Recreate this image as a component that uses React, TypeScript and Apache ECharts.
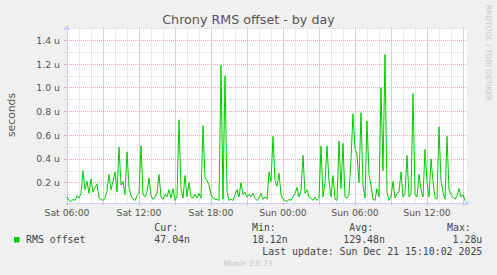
import React, { useEffect, useRef } from 'react';
import * as echarts from 'echarts';

// ---------- data ----------
const chartTitle = 'Chrony RMS offset - by day';
const yAxisTitle = 'seconds';
// hours counted from Sat 00:00
const startHour = 6; // Sat 06:00
const endHour = 39 + 20 / 60; // Sun 15:20
const stepHours = 10 / 60; // one sample every 10 minutes
const xTickLabels = ['Sat 06:00', 'Sat 12:00', 'Sat 18:00', 'Sun 00:00', 'Sun 06:00', 'Sun 12:00'];
const yMax = 1.5; // micro-seconds
const seriesName = 'RMS offset';
// RMS offset, in micro-seconds
const rmsOffset = [
  0.08, 0.05, 0.04, 0.06, 0.05, 0.09, 0.07, 0.11, 0.30, 0.14,
  0.21, 0.11, 0.23, 0.12, 0.16, 0.19, 0.07, 0.06, 0.05, 0.07,
  0.13, 0.27, 0.14, 0.21, 0.29, 0.12, 0.50, 0.18, 0.21, 0.10,
  0.46, 0.16, 0.09, 0.06, 0.05, 0.09, 0.11, 0.51, 0.10, 0.08,
  0.12, 0.24, 0.09, 0.06, 0.08, 0.11, 0.27, 0.08, 0.06, 0.10,
  0.08, 0.14, 0.07, 0.15, 0.05, 0.08, 0.73, 0.15, 0.07, 0.26,
  0.08, 0.20, 0.08, 0.07, 0.10, 0.07, 0.11, 0.07, 0.68, 0.24,
  0.22, 0.18, 0.10, 0.07, 0.06, 0.06, 0.05, 1.19, 0.06, 1.10,
  0.13, 0.05, 0.06, 0.05, 0.10, 0.14, 0.08, 0.20, 0.10, 0.12,
  0.08, 0.10, 0.08, 0.11, 0.07, 0.05, 0.07, 0.11, 0.06, 0.08,
  0.06, 0.29, 0.21, 0.59, 0.22, 0.17, 0.28, 0.10, 0.06, 0.05,
  0.04, 0.06, 0.05, 0.08, 0.11, 0.16, 0.08, 0.13, 0.43, 0.11,
  0.14, 0.08, 0.07, 0.05, 0.08, 0.05, 0.07, 0.51, 0.08, 0.20,
  0.51, 0.21, 0.08, 0.26, 0.06, 0.05, 0.55, 0.15, 0.53, 0.08,
  0.07, 0.10, 0.40, 0.78, 0.49, 0.44, 0.20, 0.79, 0.18, 0.07,
  0.72, 0.27, 0.18, 0.06, 0.05, 0.15, 0.08, 1.00, 0.30, 1.28,
  0.12, 0.05, 0.08, 0.21, 0.07, 0.11, 0.12, 0.29, 0.08, 0.11,
  0.43, 0.08, 0.11, 0.95, 0.10, 0.08, 0.27, 0.14, 0.08, 0.48,
  0.21, 0.08, 0.40, 0.21, 0.08, 0.06, 0.67, 0.21, 0.12, 0.06,
  0.59, 0.14, 0.10, 0.08, 0.06, 0.09, 0.15, 0.08, 0.10, 0.05,
];
const statHeaders = ['Cur:', 'Min:', 'Avg:', 'Max:'];
const statValues = ['47.04n', '18.12n', '129.48n', '1.28u'];
const lastUpdate = 'Last update: Sun Dec 21 15:10:02 2025';
const footerText = 'Munin 2.0.73';
const watermarkText = 'RRDTOOL / TOBI OETIKER';

// ---------- styles ----------
const BG = '#F0F0F0';
const LINE = '#00CC00';
const MGRID = '#EBA8A8';
const GRID = '#D6D6D6';
const AXIS = '#C8CEF4';
const FONT = '#555555';
const SANS = '"DejaVu Sans", sans-serif';
const MONO = '"DejaVu Sans Mono", monospace';

const G_LEFT = 67;
const G_TOP = 28.4;
const G_WIDTH = 400;
const ZERO_Y = 206.4; // pixel of value 0
const AXIS_Y = 203; // pixel where the x axis line sits

export default function App() {
  const ref = useRef<HTMLDivElement>(null);

  useEffect(() => {
    if (!ref.current) return;
    const chart = echarts.init(ref.current, null, { renderer: 'svg' });

    const seriesData = rmsOffset.map((v, i) => [startHour + i * stepHours, v]);

    const xLabel = (v: number) => {
      const k = (v - startHour) / 6;
      if (Math.abs(k - Math.round(k)) < 1e-6) return xTickLabels[Math.round(k)] ?? '';
      return '';
    };
    const yLabel = (v: number) => {
      if (v < 0.05 || v > 1.45) return '';
      return v.toFixed(1) + ' u';
    };

    const monoText = (x: number, y: number, text: string, align = 'left') => ({
      type: 'text',
      x,
      y,
      z: 20,
      style: { text, fill: '#444', font: `9.9px ${MONO}`, align, verticalAlign: 'middle' },
    });

    const option: any = {
      animation: false,
      backgroundColor: BG,
      grid: {
        left: G_LEFT,
        top: G_TOP,
        width: G_WIDTH,
        bottom: 275 - ZERO_Y,
        containLabel: false,
        outerBoundsMode: 'none',
        show: false,
      },
      xAxis: [
        {
          type: 'value', position: 'bottom', min: startHour, max: endHour, interval: 1,
          axisLine: { show: false }, axisTick: { show: false }, axisLabel: { show: false },
          splitLine: { show: true, showMinLine: false, showMaxLine: false, lineStyle: { color: GRID, width: 1, type: [1, 1] } },
          z: 0,
        },
        {
          type: 'value', position: 'bottom', min: startHour, max: endHour, interval: 3,
          axisLine: { show: false }, axisTick: { show: false }, axisLabel: { show: false },
          splitLine: { show: true, showMinLine: false, showMaxLine: false, lineStyle: { color: MGRID, width: 1, type: [1, 1] } },
          z: 0,
        },
        {
          type: 'value', position: 'bottom', min: startHour, max: endHour, interval: 3,
          offset: -(ZERO_Y - AXIS_Y),
          axisLine: {
            show: true,
            onZero: false,
            lineStyle: { color: AXIS, width: 1 },
            symbol: ['none', 'arrow'],
            symbolSize: [5, 6],
            symbolOffset: [0, 3],
          },
          axisTick: { show: true, length: 2, lineStyle: { color: MGRID } },
          axisLabel: {
            show: true, formatter: xLabel, color: FONT, fontFamily: SANS, fontSize: 9.3, margin: 5,
            showMinLabel: true, showMaxLabel: false,
          },
          splitLine: { show: false },
          z: 3,
        },
      ],
      yAxis: [
        {
          type: 'value', position: 'left', min: 0, max: yMax, interval: 0.1,
          axisLine: { show: false, onZero: false },
          axisTick: { show: true, length: 3, lineStyle: { color: GRID } },
          axisLabel: { show: false },
          splitLine: { show: true, showMinLine: false, showMaxLine: true, lineStyle: { color: GRID, width: 1, type: [1, 1] } },
          z: 0,
        },
        {
          type: 'value', position: 'left', min: 0, max: yMax, interval: 0.2,
          axisLine: {
            show: true,
            onZero: false,
            lineStyle: { color: AXIS, width: 1 },
            symbol: ['none', 'arrow'],
            symbolSize: [5, 6],
            symbolOffset: [0, 3.7],
          },
          axisTick: { show: true, length: 3, lineStyle: { color: MGRID } },
          axisLabel: { show: true, formatter: yLabel, color: FONT, fontFamily: SANS, fontSize: 9.3, margin: 7 },
          splitLine: { show: true, showMinLine: false, showMaxLine: false, lineStyle: { color: MGRID, width: 1, type: [1, 1] } },
          z: 0,
        },
      ],
      series: [
        {
          name: seriesName,
          type: 'line',
          xAxisIndex: 0,
          yAxisIndex: 0,
          data: seriesData,
          showSymbol: false,
          symbol: 'none',
          lineStyle: { color: LINE, width: 1 },
          z: 5,
          silent: true,
        },
      ],
      graphic: [
        // white canvas
        {
          type: 'rect', z: -1, silent: true,
          shape: { x: G_LEFT, y: G_TOP, width: G_WIDTH, height: AXIS_Y - G_TOP },
          style: { fill: '#FFFFFF' },
        },
        // hide the strip between the axis line and value 0
        {
          type: 'rect', z: 1, silent: true,
          shape: { x: 55, y: AXIS_Y + 0.5, width: 420, height: ZERO_Y - AXIS_Y + 0.6 },
          style: { fill: BG },
        },
        {
          type: 'text', x: 248.5, y: 19.5, z: 20,
          style: { text: chartTitle, fill: FONT, font: `12.7px ${SANS}`, align: 'center', verticalAlign: 'middle' },
        },
        {
          type: 'text', x: 11.5, y: 115, z: 20, rotation: Math.PI / 2,
          style: { text: yAxisTitle, fill: FONT, font: `10.8px ${SANS}`, align: 'center', verticalAlign: 'middle' },
        },
        {
          type: 'text', x: 488.5, y: 53, z: 20, rotation: -Math.PI / 2,
          style: { text: watermarkText, fill: '#C8C8C8', font: `7.5px ${SANS}`, align: 'center', verticalAlign: 'middle' },
        },
        {
          type: 'rect', z: 20,
          shape: { x: 14, y: 237, width: 5.5, height: 5.5 },
          style: { fill: LINE },
        },
        monoText(26, 239.7, seriesName),
        monoText(154.3, 227.5, statHeaders[0]),
        monoText(252, 227.5, statHeaders[1]),
        monoText(349.3, 227.5, statHeaders[2]),
        monoText(447, 227.5, statHeaders[3]),
        monoText(154.3, 239.7, statValues[0]),
        monoText(252, 239.7, statValues[1]),
        monoText(343.3, 239.7, statValues[2]),
        monoText(482.3, 239.7, statValues[3], 'right'),
        monoText(482.3, 251.7, lastUpdate, 'right'),
        {
          type: 'text', x: 248, y: 263.7, z: 20,
          style: { text: footerText, fill: '#C4C4C4', font: `7.5px ${SANS}`, align: 'center', verticalAlign: 'middle' },
        },
      ],
    };

    chart.setOption(option);
    return () => chart.dispose();
  }, []);

  return (
    <div
      ref={ref}
      style={{ position: 'fixed', left: 0, top: 0, width: 497, height: 275, background: BG }}
    />
  );
}
